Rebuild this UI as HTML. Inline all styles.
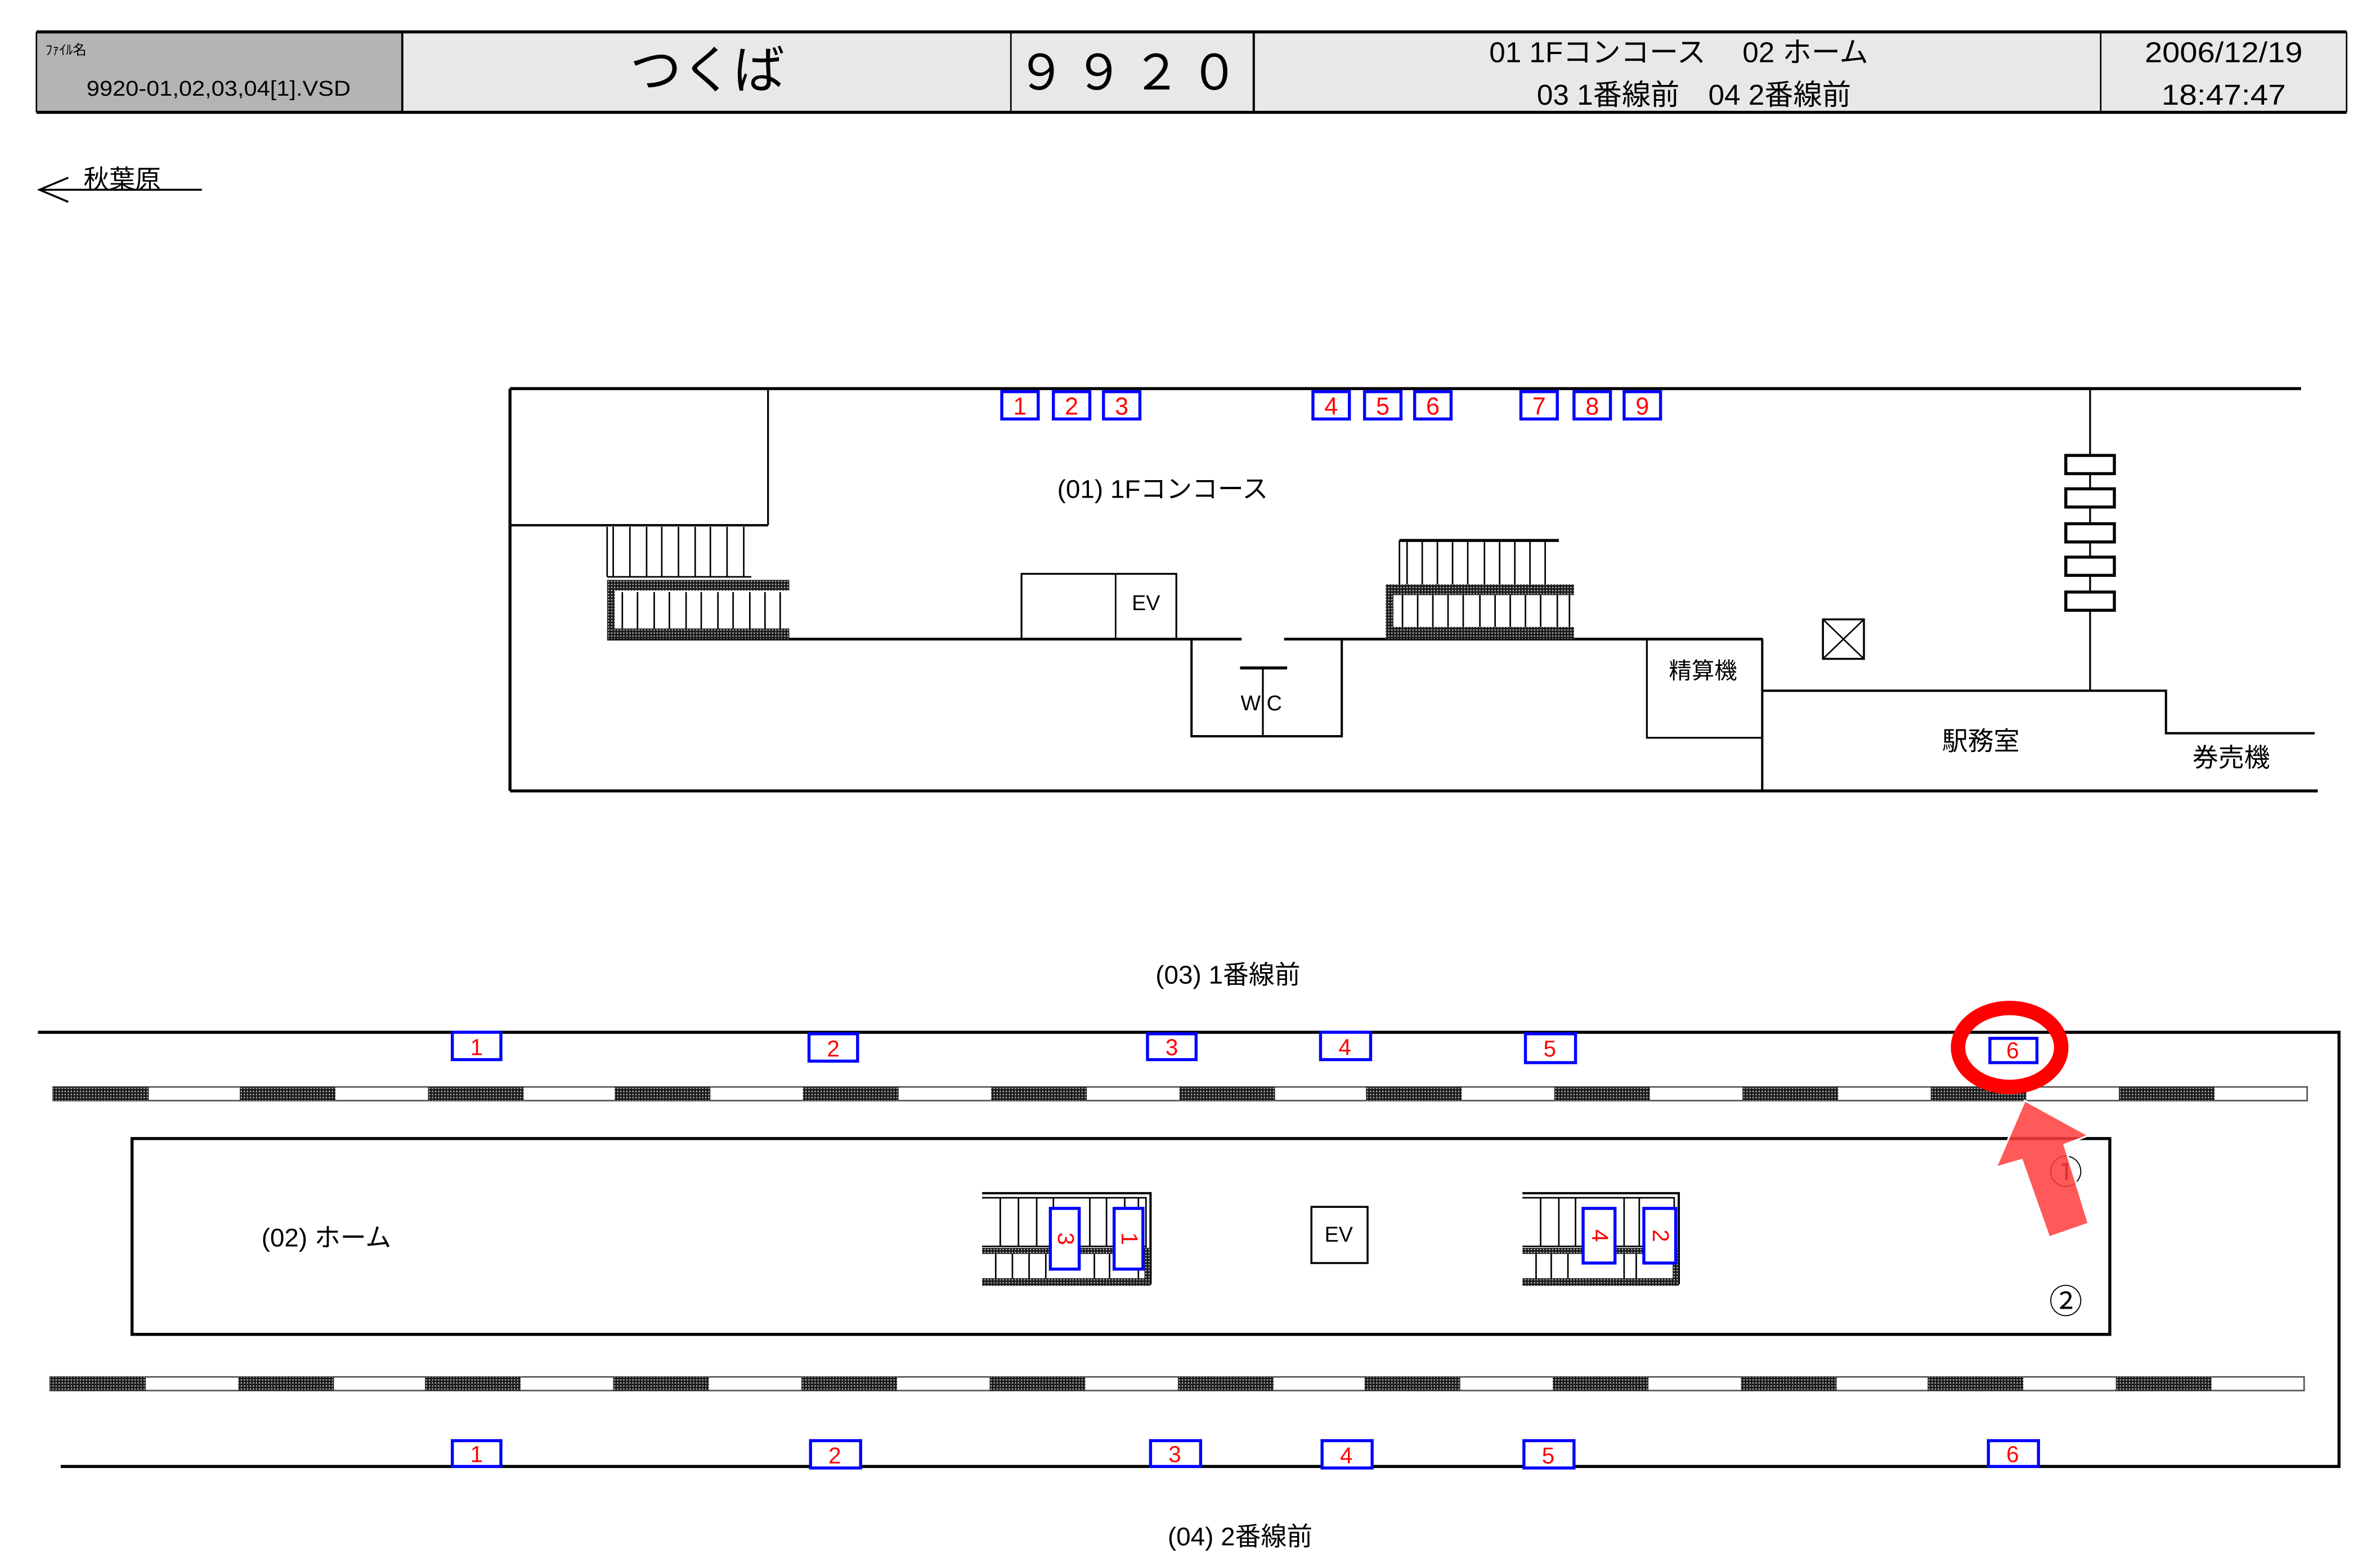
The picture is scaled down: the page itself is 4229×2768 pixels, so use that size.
<!DOCTYPE html>
<html><head><meta charset="utf-8"><style>
html,body{margin:0;padding:0;background:#fff;}
svg{display:block;}
text{font-family:"Liberation Sans","Noto Sans CJK JP",sans-serif;}
</style></head><body>
<svg width="4229" height="2768" viewBox="0 0 1568 1026.3" preserveAspectRatio="none" xmlns="http://www.w3.org/2000/svg">
<defs>
<pattern id="h" width="2" height="2" patternUnits="userSpaceOnUse">
<rect width="2" height="2" fill="#1a1a1a"/><circle cx="1" cy="1" r="0.5" fill="#bbb"/>
</pattern>
</defs>
<!-- header -->
<rect x="24" y="21" width="240" height="53" fill="#b4b4b4"/>
<rect x="264" y="21" width="1282" height="53" fill="#e8e8e8"/>
<g stroke="#000" fill="none">
<line x1="24" y1="21" x2="1546" y2="21" stroke-width="2"/>
<line x1="24" y1="74" x2="1546" y2="74" stroke-width="2"/>
<line x1="24" y1="21" x2="24" y2="74" stroke-width="1"/>
<line x1="1546" y1="21" x2="1546" y2="74" stroke-width="1"/>
<line x1="265" y1="21" x2="265" y2="74" stroke-width="1.5"/>
<line x1="666" y1="21" x2="666" y2="74" stroke-width="1"/>
<line x1="826" y1="21" x2="826" y2="74" stroke-width="1.5"/>
<line x1="1384" y1="21" x2="1384" y2="74" stroke-width="1"/>
</g>
<text x="30" y="36" font-size="9">ﾌｧｲﾙ名</text>
<text x="144" y="63" font-size="14" text-anchor="middle" textLength="174" lengthAdjust="spacingAndGlyphs">9920-01,02,03,04[1].VSD</text>
<text x="466" y="58" font-size="34" text-anchor="middle">つくば</text>
<text x="746" y="59" font-size="32" text-anchor="middle" letter-spacing="6">９９２０</text>
<text x="1106" y="41" font-size="19" text-anchor="middle">01 1Fコンコース　 02 ホーム</text>
<text x="1116" y="69" font-size="19" text-anchor="middle">03  1番線前　04  2番線前</text>
<text x="1465" y="41" font-size="19" text-anchor="middle" textLength="104" lengthAdjust="spacingAndGlyphs">2006/12/19</text>
<text x="1465" y="69" font-size="19" text-anchor="middle" textLength="82" lengthAdjust="spacingAndGlyphs">18:47:47</text>
<!-- akihabara -->
<text x="55" y="124" font-size="17">秋葉原</text>
<g stroke="#000" stroke-width="1.3" fill="none">
<line x1="26" y1="125" x2="133" y2="125"/>
<polyline points="45,117 26,125 45,133"/>
</g>

<!-- concourse -->
<g stroke="#000" fill="none">
<line x1="336" y1="256" x2="1516" y2="256" stroke-width="2"/>
<line x1="336" y1="256" x2="336" y2="521" stroke-width="2"/>
<line x1="336" y1="521" x2="1527" y2="521" stroke-width="2"/>
<line x1="506" y1="256" x2="506" y2="346" stroke-width="1.2"/>
<line x1="336" y1="346" x2="506" y2="346" stroke-width="1.5"/>
<line x1="400" y1="421" x2="818" y2="421" stroke-width="1.8"/>
<line x1="846" y1="421" x2="1161" y2="421" stroke-width="1.8"/>
<rect x="673" y="378" width="102" height="43" stroke-width="1.2"/>
<line x1="735" y1="378" x2="735" y2="421" stroke-width="1"/>
<polyline points="785,421 785,485 884,485 884,421" stroke-width="1.5"/>
<line x1="817" y1="440" x2="848" y2="440" stroke-width="2"/>
<line x1="832" y1="440" x2="832" y2="485" stroke-width="1.2"/>
<rect x="1085" y="421" width="76" height="65" stroke-width="1.2"/>
<line x1="1161" y1="421" x2="1161" y2="521" stroke-width="1.5"/>
<polyline points="1161,455 1427,455 1427,483 1525,483" stroke-width="1.5"/>
<line x1="1377" y1="256" x2="1377" y2="455" stroke-width="1.2"/>
<rect x="1201" y="408" width="27" height="26" stroke-width="1.3"/>
<line x1="1201" y1="408" x2="1228" y2="434" stroke-width="1"/>
<line x1="1228" y1="408" x2="1201" y2="434" stroke-width="1"/>
</g>
<g fill="#fff" stroke="#000" stroke-width="2">
<rect x="1361" y="300" width="32" height="12"/><rect x="1361" y="322" width="32" height="12"/>
<rect x="1361" y="345" width="32" height="12"/><rect x="1361" y="367" width="32" height="12"/>
<rect x="1361" y="390" width="32" height="12"/>
</g>
<!-- left stairs -->
<g stroke="#000" stroke-width="1">
<line x1="400" y1="347" x2="400" y2="380"/><line x1="400" y1="380" x2="495" y2="380"/>
<line x1="404" y1="347" x2="404" y2="380"/><line x1="415" y1="347" x2="415" y2="380"/><line x1="426" y1="347" x2="426" y2="380"/><line x1="436" y1="347" x2="436" y2="380"/><line x1="447" y1="347" x2="447" y2="380"/><line x1="458" y1="347" x2="458" y2="380"/><line x1="468" y1="347" x2="468" y2="380"/><line x1="479" y1="347" x2="479" y2="380"/><line x1="490" y1="347" x2="490" y2="380"/>
<line x1="410" y1="390" x2="410" y2="414"/><line x1="420" y1="390" x2="420" y2="414"/><line x1="431" y1="390" x2="431" y2="414"/><line x1="441" y1="390" x2="441" y2="414"/><line x1="452" y1="390" x2="452" y2="414"/><line x1="462" y1="390" x2="462" y2="414"/><line x1="473" y1="390" x2="473" y2="414"/><line x1="483" y1="390" x2="483" y2="414"/><line x1="494" y1="390" x2="494" y2="414"/><line x1="504" y1="390" x2="504" y2="414"/><line x1="514" y1="390" x2="514" y2="414"/>
</g>
<rect x="400" y="382" width="120" height="7" fill="url(#h)"/>
<rect x="400" y="414" width="120" height="7" fill="url(#h)"/>
<rect x="400" y="382" width="5" height="39" fill="url(#h)"/>
<!-- right stairs -->
<g stroke="#000" stroke-width="1">
<line x1="922" y1="356" x2="1027" y2="356" stroke-width="2"/>
<line x1="922" y1="356" x2="922" y2="385"/><line x1="927" y1="356" x2="927" y2="385"/><line x1="937" y1="356" x2="937" y2="385"/><line x1="947" y1="356" x2="947" y2="385"/><line x1="957" y1="356" x2="957" y2="385"/><line x1="967" y1="356" x2="967" y2="385"/><line x1="978" y1="356" x2="978" y2="385"/><line x1="988" y1="356" x2="988" y2="385"/><line x1="998" y1="356" x2="998" y2="385"/><line x1="1008" y1="356" x2="1008" y2="385"/><line x1="1018" y1="356" x2="1018" y2="385"/>
<line x1="924" y1="392" x2="924" y2="413"/><line x1="934" y1="392" x2="934" y2="413"/><line x1="944" y1="392" x2="944" y2="413"/><line x1="954" y1="392" x2="954" y2="413"/><line x1="964" y1="392" x2="964" y2="413"/><line x1="975" y1="392" x2="975" y2="413"/><line x1="985" y1="392" x2="985" y2="413"/><line x1="995" y1="392" x2="995" y2="413"/><line x1="1005" y1="392" x2="1005" y2="413"/><line x1="1015" y1="392" x2="1015" y2="413"/><line x1="1026" y1="392" x2="1026" y2="413"/><line x1="1034" y1="392" x2="1034" y2="413"/>
</g>
<rect x="913" y="385" width="124" height="7" fill="url(#h)"/>
<rect x="913" y="413" width="124" height="8" fill="url(#h)"/>
<rect x="913" y="385" width="5" height="36" fill="url(#h)"/>
<text x="755" y="402" font-size="14" text-anchor="middle">EV</text>
<text x="831" y="468" font-size="14" text-anchor="middle">W C</text>
<text x="766" y="328" font-size="17" text-anchor="middle">(01) 1Fコンコース</text>
<text x="1122" y="447" font-size="15" text-anchor="middle">精算機</text>
<text x="1305" y="494" font-size="17" text-anchor="middle">駅務室</text>
<text x="1470" y="505" font-size="17" text-anchor="middle">券売機</text>
<!-- concourse numbers -->
<g fill="#fff" stroke="#00f" stroke-width="2">
<rect x="660" y="258" width="24" height="18"/><rect x="694" y="258" width="24" height="18"/><rect x="727" y="258" width="24" height="18"/>
<rect x="865" y="258" width="24" height="18"/><rect x="899" y="258" width="24" height="18"/><rect x="932" y="258" width="24" height="18"/>
<rect x="1002" y="258" width="24" height="18"/><rect x="1037" y="258" width="24" height="18"/><rect x="1070" y="258" width="24" height="18"/>
</g>
<g fill="#f00" font-size="16" text-anchor="middle">
<text x="672" y="273">1</text><text x="706" y="273">2</text><text x="739" y="273">3</text>
<text x="877" y="273">4</text><text x="911" y="273">5</text><text x="944" y="273">6</text>
<text x="1014" y="273">7</text><text x="1049" y="273">8</text><text x="1082" y="273">9</text>
</g>

<!-- platform -->
<text x="809" y="648" font-size="17" text-anchor="middle">(03) 1番線前</text>
<text x="817" y="1018" font-size="17" text-anchor="middle">(04)  2番線前</text>
<g stroke="#000" fill="none">
<polyline points="25,680 1541,680 1541,966 40,966" stroke-width="2"/>
<rect x="87" y="750" width="1303" height="129" stroke-width="2"/>
<rect x="35" y="716" width="1485" height="9" stroke-width="1" stroke="#555" fill="#fff"/>
<rect x="33" y="907" width="1485" height="9" stroke-width="1" stroke="#555" fill="#fff"/>
</g>
<g fill="url(#h)">
<rect x="35" y="716" width="63" height="9"/><rect x="158" y="716" width="63" height="9"/><rect x="282" y="716" width="63" height="9"/><rect x="405" y="716" width="63" height="9"/><rect x="529" y="716" width="63" height="9"/><rect x="653" y="716" width="63" height="9"/><rect x="777" y="716" width="63" height="9"/><rect x="900" y="716" width="63" height="9"/><rect x="1024" y="716" width="63" height="9"/><rect x="1148" y="716" width="63" height="9"/><rect x="1272" y="716" width="63" height="9"/><rect x="1396" y="716" width="63" height="9"/>
<rect x="33" y="907" width="63" height="9"/><rect x="157" y="907" width="63" height="9"/><rect x="280" y="907" width="63" height="9"/><rect x="404" y="907" width="63" height="9"/><rect x="528" y="907" width="63" height="9"/><rect x="652" y="907" width="63" height="9"/><rect x="776" y="907" width="63" height="9"/><rect x="899" y="907" width="63" height="9"/><rect x="1023" y="907" width="63" height="9"/><rect x="1147" y="907" width="63" height="9"/><rect x="1270" y="907" width="63" height="9"/><rect x="1394" y="907" width="63" height="9"/>
</g>
<text x="215" y="821" font-size="17" text-anchor="middle">(02) ホーム</text>
<rect x="864" y="795" width="37" height="37" fill="#fff" stroke="#000" stroke-width="1.3"/>
<text x="882" y="818" font-size="14" text-anchor="middle">EV</text>
<text x="1361" y="865" font-size="22" text-anchor="middle">②</text>
<!-- stairs 1 -->
<g stroke="#000" stroke-width="1">
<polyline points="647,786 758,786 758,846" stroke-width="1.5" fill="none"/>
<polyline points="647,789 755,789 755,822" fill="none"/>
<line x1="647" y1="821" x2="755" y2="821"/>
<line x1="659" y1="789" x2="659" y2="821"/><line x1="671" y1="789" x2="671" y2="821"/><line x1="683" y1="789" x2="683" y2="821"/><line x1="694" y1="789" x2="694" y2="821"/><line x1="718" y1="789" x2="718" y2="821"/><line x1="729" y1="789" x2="729" y2="821"/><line x1="741" y1="789" x2="741" y2="821"/><line x1="750" y1="789" x2="750" y2="821"/>
<line x1="656" y1="826" x2="656" y2="843"/><line x1="667" y1="826" x2="667" y2="843"/><line x1="678" y1="826" x2="678" y2="843"/><line x1="689" y1="826" x2="689" y2="843"/><line x1="721" y1="826" x2="721" y2="843"/><line x1="731" y1="826" x2="731" y2="843"/><line x1="750" y1="826" x2="750" y2="843"/>
</g>
<rect x="647" y="822" width="111" height="4" fill="url(#h)"/>
<rect x="647" y="842" width="111" height="5" fill="url(#h)"/>
<rect x="754" y="822" width="4" height="25" fill="url(#h)"/>
<!-- stairs 2 -->
<g stroke="#000" stroke-width="1">
<polyline points="1003,786 1106,786 1106,846" stroke-width="1.5" fill="none"/>
<polyline points="1003,789 1103,789 1103,822" fill="none"/>
<line x1="1003" y1="821" x2="1103" y2="821"/>
<line x1="1015" y1="789" x2="1015" y2="821"/><line x1="1027" y1="789" x2="1027" y2="821"/><line x1="1038" y1="789" x2="1038" y2="821"/><line x1="1070" y1="789" x2="1070" y2="821"/><line x1="1080" y1="789" x2="1080" y2="821"/>
<line x1="1012" y1="826" x2="1012" y2="843"/><line x1="1022" y1="826" x2="1022" y2="843"/><line x1="1033" y1="826" x2="1033" y2="843"/><line x1="1070" y1="826" x2="1070" y2="843"/><line x1="1078" y1="826" x2="1078" y2="843"/>
</g>
<rect x="1003" y="822" width="103" height="4" fill="url(#h)"/>
<rect x="1003" y="842" width="103" height="5" fill="url(#h)"/>
<rect x="1102" y="822" width="4" height="25" fill="url(#h)"/>
<!-- vertical number boxes -->
<g fill="#fff" stroke="#00f" stroke-width="2">
<rect x="692" y="796" width="19" height="40"/><rect x="734" y="796" width="19" height="40"/>
<rect x="1043" y="796" width="21" height="36"/><rect x="1083" y="796" width="21" height="36"/>
</g>
<g fill="#f00" font-size="15" text-anchor="middle">
<text transform="translate(697,816) rotate(90)">3</text>
<text transform="translate(739,816) rotate(90)">1</text>
<text transform="translate(1049,814) rotate(90)">4</text>
<text transform="translate(1089,814) rotate(90)">2</text>
</g>
<!-- platform numbers -->
<g fill="#fff" stroke="#00f" stroke-width="2">
<rect x="298" y="680" width="32" height="18"/><rect x="533" y="681" width="32" height="18"/><rect x="756" y="681" width="32" height="17"/><rect x="870" y="680" width="33" height="18"/><rect x="1005" y="681" width="33" height="19"/><rect x="1311" y="684" width="31" height="16"/>
<rect x="298" y="949" width="32" height="17"/><rect x="534" y="949" width="33" height="18"/><rect x="758" y="949" width="33" height="17"/><rect x="871" y="949" width="33" height="18"/><rect x="1004" y="949" width="33" height="18"/><rect x="1310" y="949" width="33" height="17"/>
</g>
<g fill="#f00" font-size="15" text-anchor="middle">
<text x="314" y="695">1</text><text x="549" y="696">2</text><text x="772" y="695">3</text><text x="886" y="695">4</text><text x="1021" y="696">5</text><text x="1326" y="697">6</text>
<text x="314" y="963">1</text><text x="550" y="964">2</text><text x="774" y="963">3</text><text x="887" y="964">4</text><text x="1020" y="964">5</text><text x="1326" y="963">6</text>
</g>
<!-- highlight -->
<ellipse cx="1324" cy="690" rx="34" ry="26" fill="none" stroke="#f00" stroke-width="9.5"/>
<text x="1361" y="780" font-size="22" text-anchor="middle">①</text>
<polygon points="1334,725 1376,748 1360,754 1376,806 1350,815 1332,764 1315,769" fill="#ff3c3c" fill-opacity="0.85" stroke="#fff" stroke-width="1.2"/>
</svg>
</body></html>
